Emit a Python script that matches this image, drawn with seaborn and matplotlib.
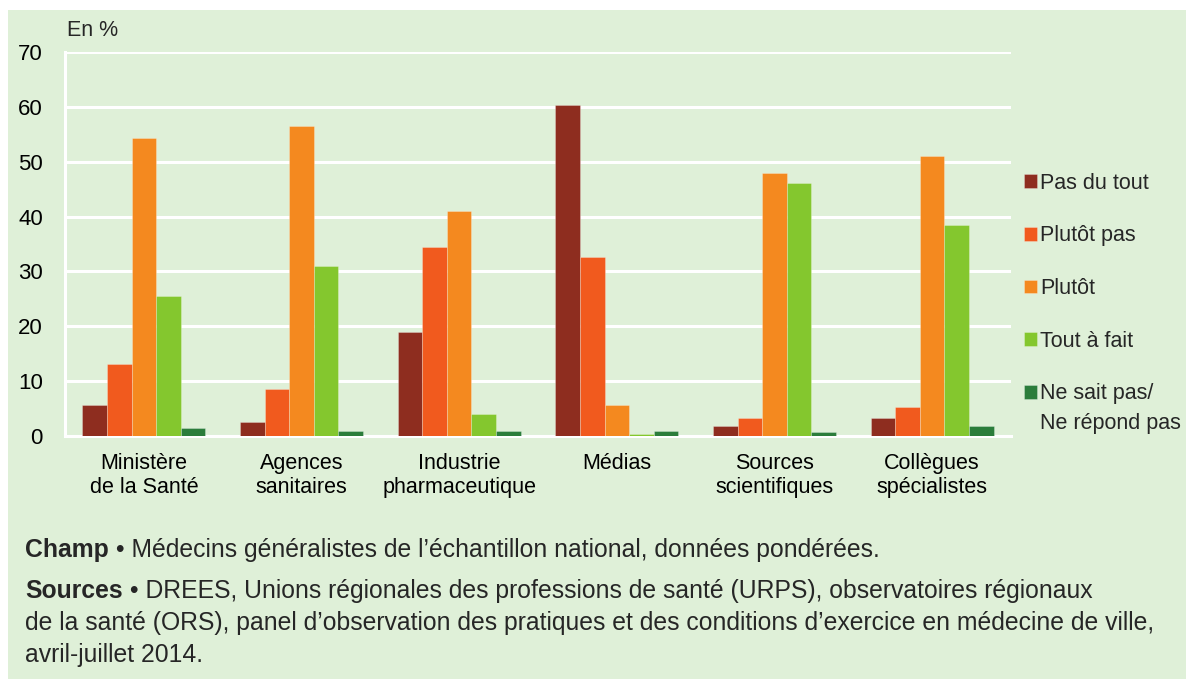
import pandas as pd
import matplotlib.pyplot as plt
import seaborn as sns
from matplotlib.patches import Rectangle

# Données (en %)
categories = ["Ministère\nde la Santé", "Agences\nsanitaires", "Industrie\npharmaceutique",
              "Médias", "Sources\nscientifiques", "Collègues\nspécialistes"]
reponses = ["Pas du tout", "Plutôt pas", "Plutôt", "Tout à fait", "Ne sait pas/"]
pas_du_tout = [5.6, 2.6, 19.0, 60.3, 1.8, 3.3]
plutot_pas = [13.1, 8.6, 34.4, 32.6, 3.3, 5.2]
plutot = [54.3, 56.6, 41.1, 5.6, 47.9, 51.0]
tout_a_fait = [25.5, 31.0, 4.0, 0.4, 46.1, 38.5]
ne_sait_pas = [1.5, 1.0, 1.0, 1.0, 0.7, 1.8]
couleurs = ["#8e2d1f", "#f15a1e", "#f4891f", "#84c72e", "#2b7d3b"]

series = [pas_du_tout, plutot_pas, plutot, tout_a_fait, ne_sait_pas]
rows = []
for rep, vals in zip(reponses, series):
    for cat, v in zip(categories, vals):
        rows.append({"categorie": cat, "reponse": rep, "valeur": v})
df = pd.DataFrame(rows)

bg = "#dff0d8"
sns.set_style("white")
plt.rcParams["font.family"] = ["Liberation Sans Narrow", "Liberation Sans", "DejaVu Sans"]

fig = plt.figure(figsize=(11.86, 6.79), dpi=100, facecolor="white")
fig.patches.append(Rectangle((8 / 1186, 0), 1, 1 - 10 / 679, transform=fig.transFigure,
                             facecolor=bg, edgecolor="none", zorder=-1))
ax = fig.add_axes([65 / 1186, 243 / 679, 946 / 1186, 384 / 679])
ax.set_facecolor(bg)

sns.barplot(data=df, x="categorie", y="valeur", hue="reponse", hue_order=reponses,
            palette=couleurs, saturation=1, width=0.78, linewidth=0.6,
            edgecolor=(1, 1, 1, 0.3), ax=ax, zorder=3)

ax.set_ylim(0, 70)
ax.set_xlim(-0.5, 5.5)
ax.set_yticks(range(0, 71, 10))
ax.yaxis.grid(True, color="white", linewidth=2.2, zorder=1)
ax.set_axisbelow(True)
for s in ["top", "right"]:
    ax.spines[s].set_visible(False)
ax.spines["left"].set_color("white")
ax.spines["left"].set_linewidth(2.2)
ax.spines["bottom"].set_color("white")
ax.spines["bottom"].set_linewidth(2.2)
ax.tick_params(axis="y", colors="white", width=2.2, length=5, pad=11, labelsize=16, labelcolor="black")
ax.tick_params(axis="x", which="major", length=0, pad=12, labelsize=15.5, labelcolor="black")
ax.set_xticks([i - 0.5 for i in range(7)], minor=True)
ax.tick_params(axis="x", which="minor", colors="white", width=2.2, length=6)
ax.set_xlabel("")
ax.set_ylabel("")
ax.text(0.002, 1.042, "En %", transform=ax.transAxes, fontsize=15.5, va="baseline", ha="left")

leg = ax.legend(loc="upper left", bbox_to_anchor=(1.0, 0.719), frameon=False, fontsize=15.5,
                handlelength=0.6, handleheight=0.6, handletextpad=0.15, labelspacing=1.47,
                borderaxespad=0.2)
# seconde ligne du dernier libellé, alignée sous "Ne sait pas/"
ax.annotate("Ne répond pas", xy=(0, 0), xycoords=leg.get_texts()[-1], xytext=(0, -6),
            textcoords="offset points", va="top", ha="left", fontsize=15.5,
            annotation_clip=False, zorder=10)

# Notes de bas de figure
fam = ["Liberation Sans", "DejaVu Sans"]
fs = 17.8
t1 = fig.text(25 / 1186, 1 - 557 / 679, "Champ", fontweight="bold", fontsize=fs, family=fam, va="baseline")
ax.annotate(" \u2022 Médecins généralistes de l\u2019échantillon national, données pondérées.",
            xy=(1, 0), xycoords=t1, va="bottom", ha="left", fontsize=fs, family=fam,
            annotation_clip=False)
t2 = fig.text(25 / 1186, 1 - 598 / 679, "Sources", fontweight="bold", fontsize=fs, family=fam, va="baseline")
ax.annotate(" \u2022 DREES, Unions régionales des professions de santé (URPS), observatoires régionaux",
            xy=(1, 0), xycoords=t2, va="bottom", ha="left", fontsize=fs, family=fam,
            annotation_clip=False)
fig.text(25 / 1186, 1 - 630 / 679,
         "de la santé (ORS), panel d\u2019observation des pratiques et des conditions d\u2019exercice en médecine de ville,",
         fontsize=fs, family=fam, va="baseline")
fig.text(25 / 1186, 1 - 662 / 679, "avril-juillet 2014.", fontsize=fs, family=fam, va="baseline")

fig.savefig("out.png", dpi=100, facecolor="white")
